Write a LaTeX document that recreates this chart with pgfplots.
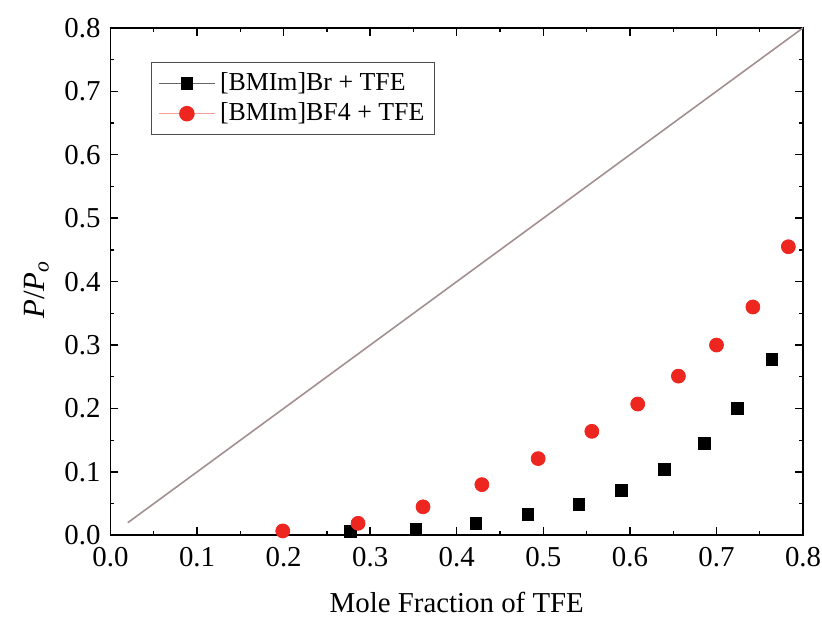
\documentclass[border=0pt]{standalone}
\usepackage{fontspec}
\setmainfont{Liberation Serif}
\usepackage{pgfplots}
\pgfplotsset{compat=1.18}
\definecolor{diag}{rgb}{0.64,0.56,0.56}
\definecolor{myred}{rgb}{0.93,0.15,0.12}
\definecolor{legred}{rgb}{0.97,0.62,0.60}
\begin{document}
\fontsize{14.5}{17}\selectfont
\begin{tikzpicture}
\begin{axis}[
  scale only axis,
  width=348pt, height=255pt,
  xmin=0, xmax=0.8, ymin=0, ymax=0.8,
  xtick={0,0.1,...,0.8}, ytick={0,0.1,...,0.8},
  minor x tick num=1, minor y tick num=1,
  tick align=inside,
  major tick length=4pt, minor tick length=2pt,
  axis line style={line width=0.9pt},
  every tick/.style={black, line width=0.7pt},
  /pgf/number format/.cd, fixed, fixed zerofill, precision=1, assume math mode=true,
  /pgfplots/.cd,
  tick label style={font=\fontsize{14.5}{17}\selectfont},
  xticklabel style={yshift=-1pt},
  xlabel={Mole Fraction of TFE},
  ylabel={\textit{P}/\textit{P}\textsubscript{\textit{o}}},
  label style={font=\fontsize{15.5}{18}\selectfont},
  xlabel style={font=\fontsize{14.5}{17}\selectfont, yshift=-3pt},
  ylabel style={yshift=-2pt, xshift=-4pt},
  legend style={at={(rel axis cs:0.059,0.933)}, anchor=north west, draw=black!70, line width=0.5pt,
    font=\fontsize{13}{16}\selectfont, inner xsep=3pt, inner ysep=3pt, row sep=0pt},
  legend cell align=left,
  legend image code/.code={\draw[#1, mark repeat=2, mark phase=2] plot coordinates {(0cm,0cm) (0.5cm,0cm) (1.0cm,0cm)};},
]
\coordinate (ll) at (rel axis cs:0,0);
\coordinate (ur) at (rel axis cs:1,1);
\addplot[diag, line width=0.8pt, forget plot] coordinates {(0.02,0.02) (0.8,0.8)};
\addplot[only marks, mark=square*, mark size=2.9pt, color=black, forget plot] coordinates {
(0.277,0.006) (0.353,0.010) (0.422,0.019) (0.482,0.033) (0.541,0.049)
(0.590,0.071) (0.640,0.104) (0.686,0.145) (0.724,0.200) (0.764,0.277)};
\addplot[only marks, mark=*, mark size=3.5pt, color=myred, forget plot] coordinates {
(0.199,0.007) (0.286,0.019) (0.361,0.045) (0.429,0.080) (0.494,0.121)
(0.556,0.164) (0.609,0.207) (0.656,0.251) (0.700,0.300) (0.742,0.360) (0.783,0.455)};
\addlegendimage{black!60, line width=0.5pt, mark=square*, mark size=2.9pt, mark options={fill=black, draw=black}}
\addlegendentry{[BMIm]Br + TFE}
\addlegendimage{legred, line width=0.8pt, mark=*, mark size=3.5pt, mark options={fill=myred, draw=myred}}
\addlegendentry{[BMIm]BF4 + TFE}
\end{axis}
\pgfresetboundingbox
\path ([shift={(-55.5pt,-41.5pt)}]ll) rectangle ([shift={(9.5pt,14pt)}]ur);
\end{tikzpicture}
\end{document}
